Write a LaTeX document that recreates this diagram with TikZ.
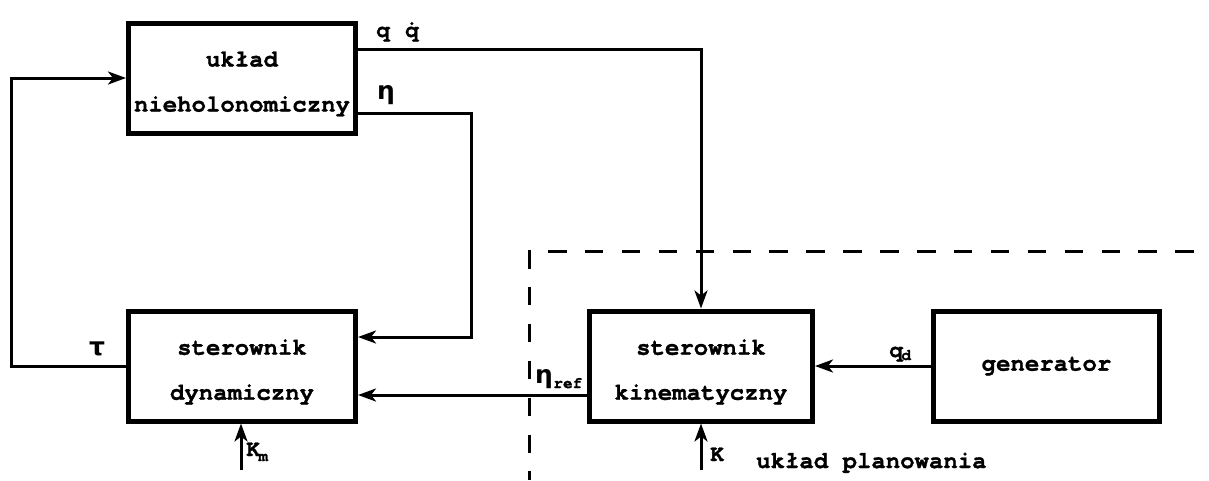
\documentclass[tikz,border=0pt]{standalone}
\usepackage{fontspec}
\setmonofont{texgyrecursor}[Extension=.otf,UprightFont=*-regular,BoldFont=*-bold,BoldFeatures={FakeBold=1.2}]
\newfontfamily\grk{DejaVu Sans}
\usetikzlibrary{arrows.meta}
\begin{document}
\begin{tikzpicture}[x=1pt,y=-1pt,
  blk/.style={draw,line width=5pt,minimum width=227pt,minimum height=110pt,inner sep=0pt},
  btxt/.style={align=center,font=\ttfamily\bfseries\fontsize{24}{45}\selectfont,inner sep=0pt},
  conn/.style={line width=3pt},
  arr/.style={conn,-{Stealth[length=18pt,width=13pt,inset=5pt]}},
  lbl/.style={font=\ttfamily\bfseries\fontsize{23}{25}\selectfont,inner sep=0pt,anchor=base west},
  glbl/.style={font=\grk\bfseries\fontsize{25}{27}\selectfont,inner sep=0pt,anchor=base west},
  sub/.style={font=\ttfamily\bfseries\fontsize{16}{17}\selectfont,inner sep=0pt,anchor=base west},
  bnd/.style={line width=3pt,dash pattern=on 18.5pt off 18.4pt}
]
\useasboundingbox (0,0) rectangle (1209,480);
% boxes
\node[blk] (A) at (242,78) {};
\node[blk] (B) at (242,366) {};
\node[blk,minimum width=223pt] (C) at (701,366) {};
\node[blk,minimum width=226pt] (D) at (1046.5,366) {};
\node[btxt,yshift=-6pt] (At) at (A.center) {układ\\nieholonomiczny};
\node[btxt,yshift=-6pt] (Bt) at (B.center) {sterownik\\dynamiczny};
\node[btxt,yshift=-6pt] (Ct) at (C.center) {sterownik\\kinematyczny};
\node[btxt] (Dt) at (D.center) {generator};
% coordinates
\coordinate (qq) at (701,49);
\coordinate (e1) at (471,113);
\coordinate (e2) at (471,337);
\coordinate (t1) at (11,366);
\coordinate (t2) at (11,78);
\coordinate (er) at (560,395);
\coordinate (km) at (241,470);
\coordinate (k) at (701,470);
% connectors
\draw[arr] (A.east |- qq) -- (qq) -- (C.north);
\draw[arr] (A.east |- e1) -- (e1) -- (e2) -- (B.east |- e2);
\draw[arr] (B.west) -- (t1) -- (t2) -- (A.west);
\draw[arr] (C.west |- er) -- (B.east |- er);
\draw[arr] (D.west) -- (C.east);
\draw[arr] (km) -- (km |- B.south);
\draw[arr] (k) -- (C.south);
% dashed boundary
\coordinate (b1) at (529,250);
\coordinate (b2) at (529,480);
\coordinate (b3) at (548,251);
\coordinate (b4) at (1194,251);
\draw[bnd] (b1) -- (b2);
\draw[bnd] (b3) -- (b4);
% labels
\node[lbl] (lq) at (376,37) {q\hspace{15pt}\.q};
\node[glbl] (leta) at (377,99) {η};
\node[glbl] (ltau) at (89,355) {τ};
\node[glbl] (leref) at (535,383) {η};
\node[sub] (lref) at (leref.base east) [yshift=-5pt] {ref};
\node[lbl] (lqd) at (889,357) {q};
\node[sub] (ld) at (lqd.base east) [xshift=-2pt,yshift=-3pt] {d};
\node[lbl] (lkm) at (246,456) {K};
\node[sub] (lm) at (lkm.base east) [xshift=-2pt,yshift=-5pt] {m};
\node[lbl] (lk) at (710,461) {K};
\node[lbl,font=\ttfamily\bfseries\fontsize{24}{26}\selectfont] (lpl) at (756,468) {układ planowania};
\end{tikzpicture}
\end{document}
